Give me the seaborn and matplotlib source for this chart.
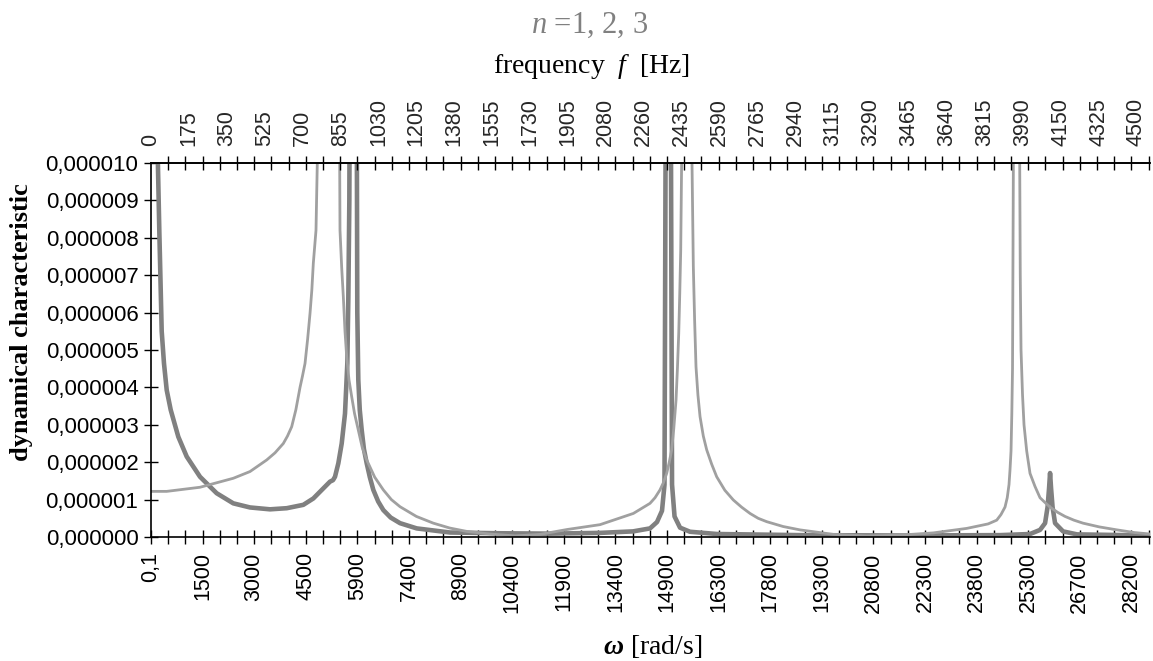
import numpy as np
import pandas as pd
import matplotlib
matplotlib.use("Agg")
import matplotlib.pyplot as plt
import matplotlib.ticker as ticker
import seaborn as sns

sns.set_style("ticks")
plt.rcParams["font.family"] = ["Liberation Sans", "DejaVu Sans"]
plt.rcParams["mathtext.fontset"] = "custom"
plt.rcParams["mathtext.rm"] = "Liberation Serif"
plt.rcParams["mathtext.it"] = "Liberation Serif:italic"
plt.rcParams["mathtext.bf"] = "Liberation Serif:bold:italic"

# thick curve: omega [rad/s] and amplitude in units of 1e-6
thick_omega = [0.1, 187, 239, 308, 374, 452, 567, 786, 1028, 1411,
               1891, 2369, 2850, 3426, 3907, 4385, 4673, 4961, 5153, 5240,
               5297, 5393, 5490, 5585, 5652, 5681, 5710, 5729, 5916, 5939,
               5968, 6010, 6066, 6130, 6210, 6300, 6400, 6540, 6688, 6900,
               7169, 7649, 8608, 10048, 11487,
               12927, 13877, 14366, 14567, 14711, 14783, 14827, 14957, 15000, 15072,
               15230, 15518, 16295, 18685, 21564, 24443, 25307, 25595, 25739, 25811,
               25854, 25883, 25912, 25955, 26027, 26257, 26660, 28762]
thick_amp = [60, 10.5, 8.2, 5.5, 4.64, 3.93, 3.4, 2.68, 2.15, 1.61,
             1.17, 0.90, 0.79, 0.74, 0.77, 0.86, 1.03, 1.30, 1.48, 1.52,
             1.61, 1.97, 2.5, 3.3, 4.64, 6.4, 9.0, 14, 14, 6.0,
             4.2, 3.4, 2.86, 2.35, 1.97, 1.6, 1.26, 0.95, 0.72, 0.52,
             0.37, 0.23, 0.12, 0.10, 0.09,
             0.11, 0.15, 0.23, 0.40, 0.70, 1.4, 14, 14, 1.4, 0.55,
             0.25, 0.14, 0.08, 0.05, 0.04, 0.05, 0.08, 0.19, 0.37, 0.8,
             1.3, 1.71, 1.3, 0.8, 0.37, 0.15, 0.07, 0.04]

# thin curve
thin_omega = [0.1, 452, 1411, 2369, 2850, 3331, 3570, 3809, 3930, 4051,
              4170, 4290, 4360, 4434, 4510, 4578, 4630, 4673, 4715, 4750,
              4808, 5427, 5441, 5490, 5537, 5585, 5634, 5700, 5778, 5860,
              5968, 6080, 6210, 6440, 6688, 6920, 7169, 7640, 8128, 8600,
              9089, 9760, 10480, 11200, 11977, 12927, 13886, 14366, 14510, 14654,
              14750, 14846, 14920, 14990, 15050, 15115, 15155, 15193, 15222, 15250,
              15287, 15561, 15613, 15650, 15690, 15745, 15806, 15900, 15998, 16140,
              16286, 16520, 16764, 17000, 17245, 17480, 17725, 18200, 18685, 19644,
              20604, 21564, 22523, 23484, 24100, 24347, 24470, 24586, 24650, 24701,
              24730, 24759, 24782, 24802, 24831, 25004, 25025, 25047, 25090, 25133,
              25210, 25306, 25450, 25594, 25740, 25882, 26100, 26314, 26570, 26832,
              27300, 27811, 28300, 28762]
thin_amp = [1.22, 1.22, 1.33, 1.57, 1.75, 2.06, 2.25, 2.5, 2.7, 2.95,
            3.4, 4.0, 4.3, 4.64, 5.3, 5.98, 6.6, 7.32, 7.8, 8.2,
            11, 11, 8.2, 7.2, 6.42, 5.5, 4.82, 4.2, 3.75, 3.3,
            2.86, 2.4, 2.06, 1.6, 1.26, 1.0, 0.81, 0.55, 0.37, 0.24,
            0.15, 0.08, 0.03, 0.07, 0.2, 0.33, 0.63, 0.9, 1.05, 1.26,
            1.45, 1.70, 2.0, 2.33, 2.9, 3.66, 4.5, 5.45, 6.5, 7.67,
            11, 11, 7.23, 5.8, 4.55, 3.8, 3.22, 2.7, 2.33, 1.95,
            1.61, 1.25, 0.99, 0.8, 0.63, 0.5, 0.41, 0.28, 0.19, 0.07,
            0.03, 0.05, 0.11, 0.23, 0.35, 0.45, 0.6, 0.8, 1.05, 1.4,
            1.8, 2.3, 3.3, 4.5, 11, 11, 7.0, 5.0, 3.8, 3.0,
            2.3, 1.7, 1.35, 1.05, 0.92, 0.8, 0.66, 0.55, 0.45, 0.37,
            0.27, 0.19, 0.12, 0.08]

omega_labels = ["0,1", "1500", "3000", "4500", "5900", "7400", "8900", "10400",
                "11900", "13400", "14900", "16300", "17800", "19300", "20800",
                "22300", "23800", "25300", "26700", "28200"]
freq_labels = ["0", "175", "350", "525", "700", "855", "1030", "1205", "1380",
               "1555", "1730", "1905", "2080", "2260", "2435", "2590", "2765",
               "2940", "3115", "3290", "3465", "3640", "3815", "3990", "4150",
               "4325", "4500"]

OMEGA_MAX = 28760      # right end of the axis
TICK_STEP = 495.17     # spacing of the tick marks
FREQ_STEP = 1091.1     # spacing of the top labels in omega units

df_thick = pd.DataFrame({"omega": thick_omega, "amp": np.array(thick_amp) * 1e-6})
df_thin = pd.DataFrame({"omega": thin_omega, "amp": np.array(thin_amp) * 1e-6})

fig = plt.figure(figsize=(11.53, 6.61), dpi=100)
ax = fig.add_axes([151 / 1153, 124 / 661, 999 / 1153, 374 / 661])

sns.lineplot(data=df_thick, x="omega", y="amp", ax=ax, color="#808080",
             linewidth=3.3, sort=False, estimator=None)
sns.lineplot(data=df_thin, x="omega", y="amp", ax=ax, color="#a0a0a0",
             linewidth=2.0, sort=False, estimator=None)

ax.set_xlim(0, OMEGA_MAX)
ax.set_ylim(0, 1e-5)
ax.set_xlabel("")
ax.set_ylabel("")

tick_pos = np.arange(0, 59) * TICK_STEP
ax.set_xticks(tick_pos, minor=True)
ax.set_xticks(np.arange(len(omega_labels)) * 3 * TICK_STEP, omega_labels, rotation=90)
ax.set_yticks(np.arange(0, 11) * 1e-6)
ax.yaxis.set_major_formatter(ticker.FuncFormatter(lambda v, p: f"{v:.6f}".replace(".", ",")))

ax.tick_params(axis="both", which="both", direction="inout", length=10, width=1,
               color="black", labelcolor="black")
ax.tick_params(axis="x", which="major", pad=6, labelsize=15.5)
ax.tick_params(axis="y", which="major", pad=4, labelsize=16)
for side in ["left", "bottom", "top"]:
    ax.spines[side].set_color("black")
    ax.spines[side].set_linewidth(1.2)
ax.spines["right"].set_visible(False)

# top axis: frequency
ax2 = ax.twiny()
ax2.set_xlim(0, OMEGA_MAX)
ax2.set_xticks(np.arange(len(freq_labels)) * FREQ_STEP, freq_labels, rotation=90)
ax2.set_xticks(tick_pos, minor=True)
ax2.tick_params(axis="x", which="major", length=0, pad=12, labelsize=15.5)
ax2.tick_params(axis="x", which="minor", direction="inout", length=10, width=1, color="black")
for side in ["left", "bottom", "right"]:
    ax2.spines[side].set_visible(False)
ax2.spines["top"].set_color("black")
ax2.spines["top"].set_linewidth(1.2)

fig.text(590 / 1153, 1 - 33 / 661, r"$n$ =1, 2, 3", color="#808080", fontsize=22,
         family="Liberation Serif", ha="center", va="baseline")
fig.text(592 / 1153, 1 - 73 / 661, r"frequency  $f$  [Hz]", color="black", fontsize=20,
         family="Liberation Serif", ha="center", va="baseline")
fig.text(653 / 1153, 1 - 646 / 661, r"$\mathbf{\omega}$ [rad/s]", color="black", fontsize=20,
         family="Liberation Serif", ha="center", va="center")
fig.text(22 / 1153, 1 - 322 / 661, "dynamical characteristic", color="black", fontsize=19,
         family="Liberation Serif", fontweight="bold", rotation=90, ha="center", va="center")

fig.savefig("out.png", dpi=100)
